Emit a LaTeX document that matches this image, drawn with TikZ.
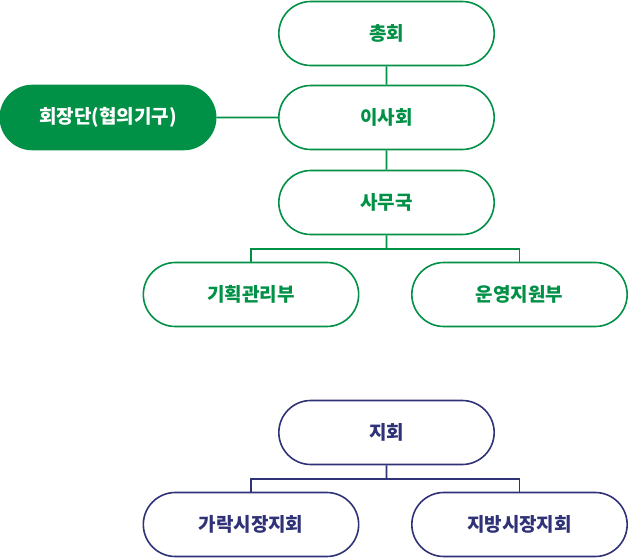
\documentclass[tikz,border=0pt]{standalone}
\usepackage{fontspec}
\newfontfamily\kor{Noto Sans CJK KR}
\usetikzlibrary{shapes.misc}
\definecolor{orggreen}{RGB}{0,144,70}
\definecolor{orgnavy}{RGB}{48,50,120}
\begin{document}
\begin{tikzpicture}[x=1pt,y=-1pt,
  pill/.style={rounded rectangle,draw=orggreen,line width=1.6pt,fill=white,
    minimum width=222pt,minimum height=64pt,text=orggreen,
    font=\kor\bfseries\fontsize{19}{22}\selectfont},
  pillfill/.style={pill,fill=orggreen,text=white},
  navypill/.style={pill,draw=orgnavy,text=orgnavy},
  link/.style={draw=orggreen,line width=1.6pt},
  navylink/.style={draw=orgnavy,line width=1.6pt}]
\useasboundingbox (0,0) rectangle (630,559);

%head office
\node[pill] (chonghoe) at (386.5,33.5) {총회};
\node[pill] (isahoe) at (386.5,117.5) {이사회};
\node[pillfill] (hoejangdan) at (108,117.5) {회장단(협의기구)};
\node[pill] (samuguk) at (386.5,202.5) {사무국};
\node[pill] (gihoek) at (251,294.5) {기획관리부};
\node[pill] (unyeong) at (519.5,294.5) {운영지원부};
\coordinate (branchA) at (386.5,249);

\draw[link] (chonghoe) -- (isahoe);
\draw[link] (hoejangdan) -- (isahoe);
\draw[link] (isahoe) -- (samuguk);
\draw[link] (samuguk) -- (branchA);
\draw[link] (branchA) -| (gihoek);
\draw[link] (branchA) -| (unyeong);

%branches
\node[navypill] (jihoe) at (386.5,432.5) {지회};
\node[navypill] (garak) at (251,524.5) {가락시장지회};
\node[navypill] (jibang) at (519.5,524.5) {지방시장지회};
\coordinate (branchB) at (386.5,479);

\draw[navylink] (jihoe) -- (branchB);
\draw[navylink] (branchB) -| (garak);
\draw[navylink] (branchB) -| (jibang);

\end{tikzpicture}
\end{document}
